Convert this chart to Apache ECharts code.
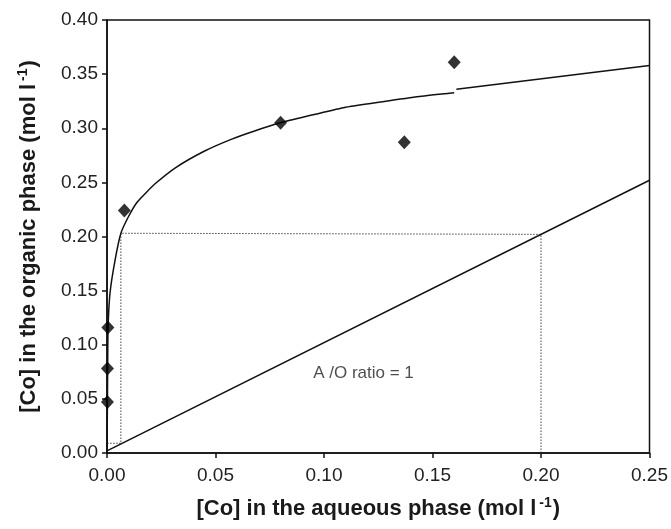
<!DOCTYPE html>
<html>
<head>
    <meta charset="utf-8">
    <script src="https://cdn.jsdelivr.net/npm/echarts@6/dist/echarts.min.js"></script>
    <title>Co extraction isotherm</title>
    <style>
        html, body { margin: 0; padding: 0; background: #fff; }
        #main { width: 671px; height: 529px; }
    </style>
</head>

<body>
    <div id="main"></div>

    <script type="text/javascript">
        // measured points (aqueous, organic)
        var measuredAq  = [0.0002, 0.0002, 0.0004, 0.008, 0.080, 0.137, 0.160];
        var measuredOrg = [0.047, 0.078, 0.116, 0.224, 0.305, 0.287, 0.361];

        // fitted isotherm (first piece)
        var curveAq  = [0, 0.0002, 0.0003, 0.0005, 0.0014, 0.0037, 0.0064, 0.0098, 0.0136, 0.018, 0.022, 0.0315, 0.045, 0.0575, 0.068, 0.080, 0.092, 0.109, 0.127, 0.144, 0.160];
        var curveOrg = [0, 0.047, 0.078, 0.116, 0.148, 0.178, 0.203, 0.218, 0.231, 0.2405, 0.2485, 0.2635, 0.279, 0.290, 0.2975, 0.305, 0.311, 0.319, 0.3245, 0.3293, 0.3327];
        // second piece of the isotherm
        var curve2Aq  = [0.161, 0.25];
        var curve2Org = [0.336, 0.358];

        // operating line A/O = 1
        var opAq  = [0, 0.25];
        var opOrg = [0.002, 0.252];

        // McCabe-Thiele steps (dotted)
        var stepAq  = [0.2, 0.2, 0.0064, 0.0064, 0];
        var stepOrg = [0, 0.202, 0.203, 0.009, 0.009];

        var ratioLabel = 'A /O ratio = 1';
        var ratioPos = [0.095, 0.074];

        function pairs(xs, ys) {
            return xs.map(function (x, i) { return [x, ys[i]]; });
        }

        var myChart = echarts.init(document.getElementById('main'));
        var font = 'Liberation Sans, Arial, sans-serif';
        var titleRich = {
            b: { fontFamily: font, fontWeight: 'bold', fontSize: 22, color: '#1a1a1a' },
            s: { fontFamily: font, fontWeight: 'bold', fontSize: 14, color: '#1a1a1a', verticalAlign: 'bottom', padding: [0, 1, 12, 3] }
        };

        myChart.setOption({
            animation: false,
            backgroundColor: '#fff',
            grid: {
                left: 107,
                right: 19,
                top: 20,
                bottom: 76,
                show: true,
                borderColor: '#111',
                borderWidth: 1.5
            },
            xAxis: {
                type: 'value',
                min: 0,
                max: 0.25,
                interval: 0.05,
                name: '{b|[Co] in the aqueous phase (mol l}{s|-1}{b|)}',
                nameLocation: 'middle',
                nameGap: 43,
                nameTextStyle: { rich: titleRich },
                axisLine: { onZero: false, lineStyle: { color: '#111', width: 1.5 } },
                axisTick: { show: true, length: 5, lineStyle: { color: '#111', width: 1.5 } },
                axisLabel: {
                    color: '#222', fontFamily: font, fontSize: 19, margin: 13,
                    formatter: function (v) { return v.toFixed(2); }
                },
                splitLine: { show: false }
            },
            yAxis: {
                type: 'value',
                min: 0,
                max: 0.40,
                interval: 0.05,
                name: '{b|[Co] in the organic phase (mol l}{s|-1}{b|)}',
                nameLocation: 'middle',
                nameGap: 65,
                nameTextStyle: { rich: titleRich },
                axisLine: { onZero: false, lineStyle: { color: '#111', width: 1.5 } },
                axisTick: { show: true, length: 5, lineStyle: { color: '#111', width: 1.5 } },
                axisLabel: {
                    color: '#222', fontFamily: font, fontSize: 19, margin: 9,
                    formatter: function (v) { return v.toFixed(2); }
                },
                splitLine: { show: false }
            },
            series: [{
                name: 'steps',
                type: 'line',
                data: pairs(stepAq, stepOrg),
                symbol: 'none',
                lineStyle: { color: '#444', width: 1, type: [1.5, 1.5] },
                z: 1
            }, {
                name: 'operating line',
                type: 'line',
                data: pairs(opAq, opOrg),
                symbol: 'none',
                lineStyle: { color: '#111', width: 1.5 },
                z: 2
            }, {
                name: 'isotherm',
                type: 'line',
                data: pairs(curveAq, curveOrg),
                symbol: 'none',
                smooth: 0.2,
                lineStyle: { color: '#111', width: 1.5 },
                z: 2
            }, {
                name: 'isotherm 2',
                type: 'line',
                data: pairs(curve2Aq, curve2Org),
                symbol: 'none',
                lineStyle: { color: '#111', width: 1.5 },
                z: 2
            }, {
                name: 'measured',
                type: 'scatter',
                data: pairs(measuredAq, measuredOrg),
                symbol: 'diamond',
                symbolSize: [13, 14],
                itemStyle: { color: '#000' },
                z: 3
            }, {
                name: 'label',
                type: 'scatter',
                data: [ratioPos],
                symbolSize: 0,
                label: {
                    show: true,
                    position: 'right',
                    distance: 0,
                    formatter: ratioLabel,
                    color: '#222',
                    fontFamily: font,
                    fontSize: 17
                },
                silent: true
            }]
        });
    </script>
</body>

</html>
